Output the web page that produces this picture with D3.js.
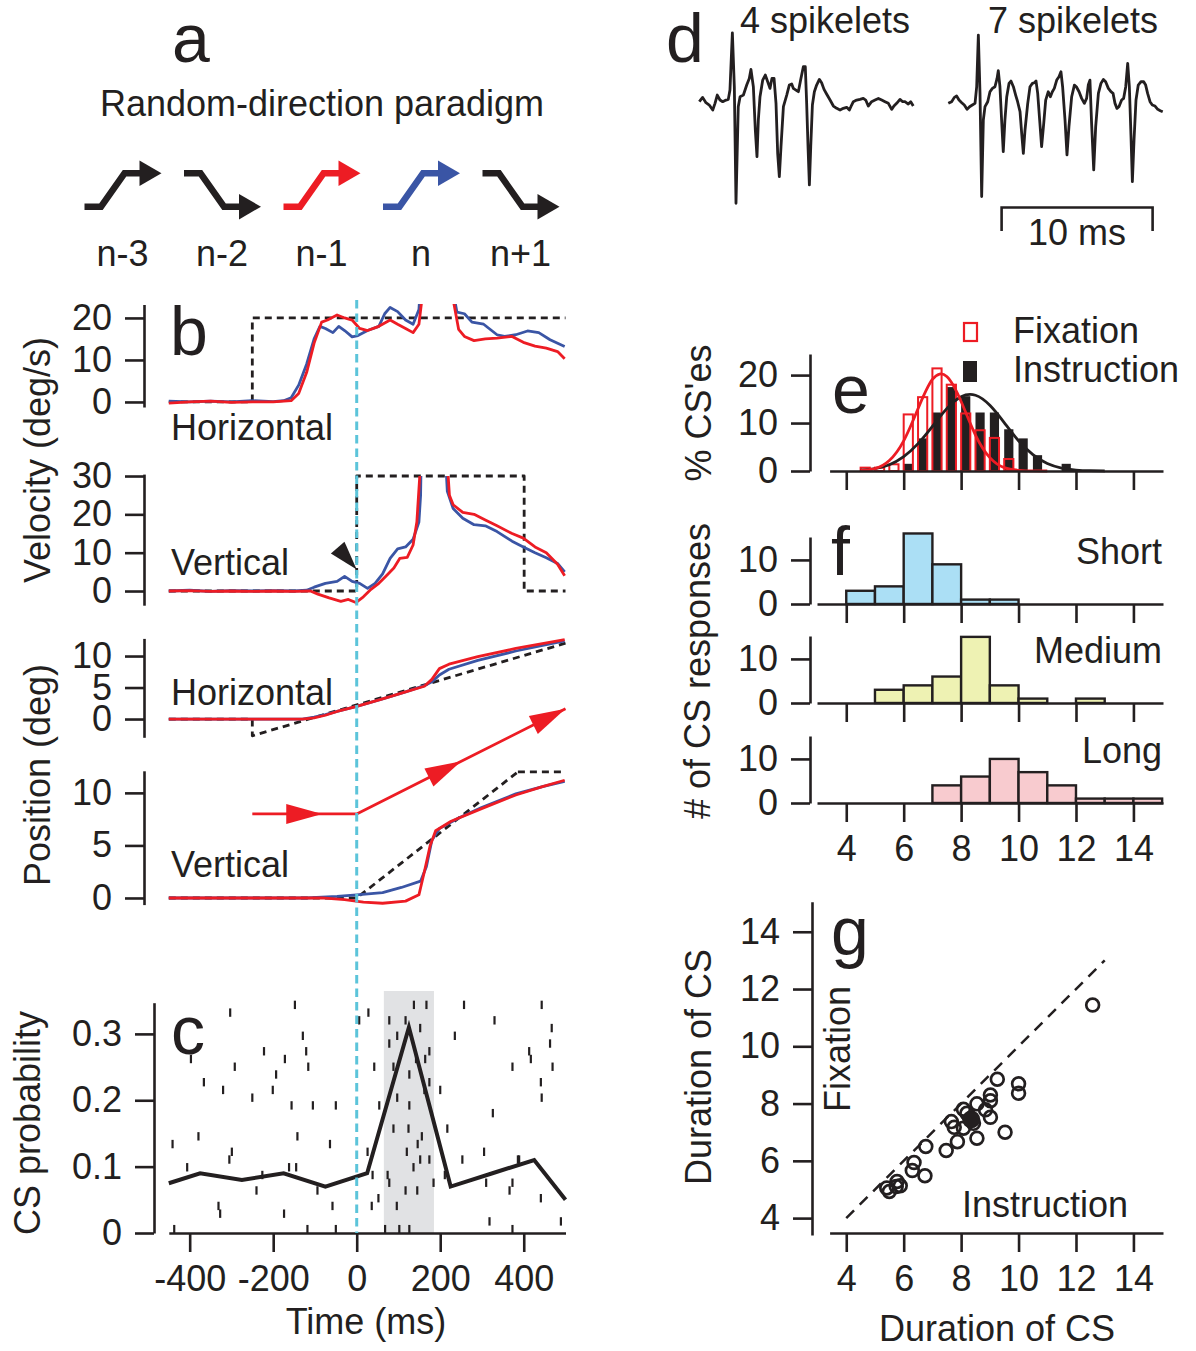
<!DOCTYPE html>
<html lang="en">
<head>
<meta charset="UTF-8">
<title>Complex spike figure</title>
<script src="https://d3js.org/d3.v7.min.js"></script>
<style>
  body { margin:0; background:#fff; }
  svg { display:block; background:#fff; color:#231f20; font-family:"Liberation Sans", Arial, sans-serif; }
  text { fill:#231f20; }
  .axis path, .axis line { stroke:#231f20; stroke-width:2.6px; }
  .trace { fill:none; stroke-width:2.8px; stroke-linejoin:round; }
</style>
</head>
<body>
<svg id="fig" width="1196" height="1351"></svg>
<script>
// ---------- data ----------
// a: trial sequence
const seqLabels = ['n-3', 'n-2', 'n-1', 'n', 'n+1'];
const seqDirs   = [1, -1, 1, 1, -1];          // 1 = up, -1 = down
const seqColors = ['#231f20', '#231f20', '#ed1c24', '#3a55a5', '#231f20'];

// b: velocity (deg/s) vs time (ms); off-scale saccade values are clipped
const velHorTarget = [[-450,0],[-250,0],[-250,20],[500,20]];
const velHorBlue = [[-450,0.2],[-400,0],[-350,0.2],[-300,0],[-250,0.3],[-200,0.1],[-175,0.3],[-157,1],[-139,4],[-120,9],[-102,15],[-88,18],[-75,17.5],[-57,16.5],[-43,18],[-29,17],[-11,15.5],[3,15.8],[26,17],[53,18],[67,21],[80,22.5],[98,21.5],[117,19.5],[135,18.5],[149,22],[153,28],[162,60],[212,60],[224,30],[240,21.4],[258,21],[276,19],[304,18.5],[336,16],[354,15.6],[381,16],[409,16.9],[436,16.5],[463,14.8],[498,13.2]];
const velHorRed = [[-450,-0.3],[-400,0],[-350,0.2],[-300,-0.1],[-250,0],[-200,0],[-157,0.3],[-139,2],[-120,7],[-102,14],[-84,19],[-70,19.5],[-47,20.7],[-29,20],[-11,19.5],[7,17.5],[26,17],[53,18],[80,19.5],[98,18.5],[117,17.5],[135,16.5],[149,18.5],[158,26],[166,60],[214,60],[228,26],[244,17.3],[258,15.6],[281,14.6],[308,15],[336,15.2],[372,15.6],[399,14.2],[427,13.3],[454,12.8],[481,12],[498,10.3]];

const velVerTarget = [[-450,0],[0,0],[0,30],[401,30],[401,0],[500,0]];
const velVerBlue = [[-450,0],[-400,0.2],[-350,-0.1],[-300,0.1],[-250,0],[-200,0.1],[-150,0],[-120,0.2],[-102,1],[-75,2],[-47,2.5],[-29,3.8],[-11,2.5],[7,2],[26,0.7],[44,2],[62,4.5],[80,8.5],[98,11],[117,11.5],[135,13.5],[149,18],[153,25],[158,60],[205,60],[210,40],[217,26],[231,21.5],[254,19],[281,17.3],[308,17],[336,15.5],[372,13],[399,11.5],[427,10],[454,8.7],[481,7.2],[498,5]];
const velVerRed = [[-450,0],[-400,0.1],[-350,-0.1],[-300,0],[-250,-0.1],[-200,0],[-150,-0.1],[-111,0],[-93,-0.8],[-66,-1.8],[-38,-2.7],[-20,-2.2],[-2,-3],[16,-1.5],[35,0.5],[53,2],[71,4],[89,6],[103,8.5],[121,8.8],[135,12],[144,18],[151,30],[155,60],[210,60],[213,40],[222,25],[231,22.5],[254,20.5],[281,20],[308,18.5],[336,17],[372,15],[399,13.8],[427,11.5],[454,10],[481,7],[498,4]];

// b: position (deg) vs time (ms)
const posHorTarget = [[-450,0],[-250,0],[-250,-2.66],[500,12.04]];
const posHorBlue = [[-450,0],[-130,0],[-102,0.3],[-75,0.7],[-47,1.2],[0,2],[62,3.2],[117,4.3],[162,5.3],[180,5.9],[198,7],[221,7.9],[290,9.3],[381,10.8],[498,12.4]];
const posHorRed  = [[-450,0],[-130,0],[-102,0.2],[-75,0.6],[-47,1.2],[0,2],[62,3.2],[117,4.3],[162,5.2],[180,6.3],[198,8],[221,8.7],[290,9.9],[381,11.2],[498,12.6]];
const posVerTarget = [[-450,0],[0,0],[386,12]];
const posVerTargetHold = [[386,12],[500,12]];
const posVerBlue = [[-450,0],[-120,0],[-47,0.15],[0,0.3],[62,0.5],[107,1.0],[153,1.6],[167,3.0],[180,5.5],[198,6.6],[244,7.6],[299,8.6],[381,9.9],[445,10.6],[498,11.1]];
const posVerRed  = [[-450,0],[-84,0],[-29,-0.15],[16,-0.4],[62,-0.5],[117,-0.3],[149,0.3],[162,2.5],[176,5.0],[189,6.4],[226,7.3],[299,8.5],[381,9.8],[445,10.6],[498,11.2]];
const trajectory = [[-250,8],[0,8],[500,18]];

// c: CS probability and raster
const psthTime = [-450,-375,-275,-175,-75,25,125,225,325,425,500];
const psthProb = [0.075,0.09,0.08,0.09,0.07,0.09,0.31,0.07,0.09,0.11,0.05];
const responseWindow = [65, 185];
const rasterSpikes = [
  [-148,30],[28,29],[137,30],[167,30],[257,30],[443,30],
  [-303,29],[330,28],[6,28],[78,28],[117,28],[152,27],[467,27],
  [97,26],[235,26],[463,25],[-129,26],[78,25],[174,24],[-222,24],[-121,24],
  [-172,23],[413,24],[417,23],[-397,23],[-292,22],[-116,22],[42,22],[88,22],
  [142,23],[164,23],[373,22],[469,22],[-193,21],[126,21],[174,20],[441,20],
  [-366,20],[-320,19],[-250,18],[-201,19],[200,19],[162,19],[443,18],[97,18],
  [-156,17],[-105,17],[-50,17],[54,17],[126,17],[326,16],[88,14],[124,14],
  [156,13],[217,14],[-379,13],[-142,13],[-64,12],[146,12],[-441,12],[-299,11],
  [-305,10],[26,11],[120,11],[152,10],[253,10],[305,11],[386,10],[-406,9],
  [-162,9],[-145,9],[74,8],[136,9],[174,10],[-226,8],[38,8],[78,7],[211,8],
  [184,7],[373,7],[389,10],[-240,6],[-94,6],[117,6],[145,6],[310,7],[366,6],
  [-58,4],[36,4],[52,5],[96,4],[441,5],[-331,4],[-327,3],[-174,3],[318,2],
  [489,2],[-437,1],[-118,1],[-50,1],[68,1],[102,1],[126,1],[373,1]
];

// d: example complex spikes (ms, a.u.)
const trace4 = [[0.02,0],[0.24,0.13],[0.46,-0.03],[0.68,-0.1],[0.91,-0.25],[1.06,-0.05],[1.21,0.2],[1.39,0.05],[1.57,0],[1.79,0.05],[1.94,0.07],[2.05,0.35],[2.21,2.07],[2.34,0.45],[2.45,-3.05],[2.6,-0.15],[2.72,0.15],[2.94,0.2],[3.16,0.5],[3.33,0.7],[3.44,0.97],[3.6,0.45],[3.73,-0.85],[3.84,-1.65],[3.93,-0.55],[4.04,0.15],[4.22,0.65],[4.39,0.8],[4.55,0.6],[4.7,0.4],[4.83,0.7],[4.97,0.7],[5.1,-0.05],[5.21,-1.55],[5.32,-2.25],[5.43,-1.35],[5.59,-0.15],[5.81,0.2],[5.98,0.5],[6.14,0.53],[6.25,0.4],[6.42,0.35],[6.58,0.3],[6.73,0.65],[6.91,1.05],[7.04,1.05],[7.13,-0.05],[7.22,-1.35],[7.31,-2.5],[7.4,-1.35],[7.51,-0.1],[7.64,0.3],[7.79,0.5],[7.97,0.67],[8.12,0.57],[8.28,0.37],[8.45,0.23],[8.68,0.05],[8.9,-0.13],[9.12,-0.2],[9.34,-0.25],[9.56,-0.2],[9.78,-0.17],[9.96,-0.25],[10.11,-0.1],[10.22,0],[10.44,0.05],[10.66,0.07],[10.88,0.1],[11.04,0.05],[11.21,-0.13],[11.43,0],[11.66,0.05],[11.88,0.1],[12.1,0.05],[12.32,0],[12.54,-0.05],[12.76,-0.23],[12.91,-0.13],[13.09,-0.05],[13.31,0.07],[13.49,0],[13.64,0],[13.86,-0.07],[14.02,0],[14.19,-0.13]];
const trace7 = [[0.02,-0.05],[0.24,0],[0.42,0.13],[0.57,0.17],[0.73,0.05],[0.91,-0.03],[1.08,-0.1],[1.26,-0.23],[1.43,-0.15],[1.61,-0.1],[1.79,-0.05],[1.9,0.45],[2.01,2.0],[2.12,0.25],[2.23,-2.85],[2.34,-0.55],[2.45,-0.15],[2.63,0],[2.78,0.3],[2.94,0.4],[3.11,0.45],[3.25,0.7],[3.33,0.93],[3.44,0.45],[3.55,-0.55],[3.66,-1.5],[3.77,-0.55],[3.89,0.15],[4.04,0.55],[4.17,0.62],[4.33,0.45],[4.48,0.2],[4.61,0],[4.77,-0.3],[4.88,-0.95],[4.99,-1.55],[5.1,-0.85],[5.28,-0.05],[5.43,0.45],[5.59,0.55],[5.72,0.57],[5.83,0.62],[5.94,0.25],[6.07,-0.55],[6.2,-1.35],[6.34,-0.65],[6.47,0.05],[6.64,0.3],[6.78,0.15],[6.91,0.3],[7.04,0.4],[7.2,0.65],[7.35,0.75],[7.48,0.9],[7.59,0.45],[7.75,-0.55],[7.88,-1.6],[8.01,-0.75],[8.19,0.15],[8.37,0.5],[8.5,0.45],[8.68,0.3],[8.85,0.1],[9.03,-0.05],[9.18,0.1],[9.29,0.5],[9.4,0.65],[9.51,-0.65],[9.65,-2.05],[9.78,-0.75],[9.96,0.25],[10.13,0.55],[10.29,0.67],[10.44,0.6],[10.62,0.4],[10.79,0.3],[10.93,0.25],[11.06,-0.05],[11.19,-0.2],[11.32,-0.15],[11.5,0.05],[11.63,0.1],[11.77,0.45],[11.9,1.15],[12.01,0.45],[12.12,-1.05],[12.21,-2.4],[12.32,-1.15],[12.45,0.05],[12.6,0.5],[12.78,0.6],[12.96,0.6],[13.09,0.5],[13.22,0.25],[13.38,0],[13.53,-0.1],[13.71,-0.13],[13.89,-0.23],[14.06,-0.27],[14.22,-0.3]];

// e: CS duration distributions (% of CSs), 0.5 ms bins
const eBins = [4.5,5,5.5,6,6.5,7,7.5,8,8.5,9,9.5,10,10.5,11,11.5];
const fixationPct    = [0.7,0.7,1.4,11.8,15.4,21.4,18,12,8.5,6.9,2.5,0,0,0,0];
const instructionPct = [0,0,0,1.5,6.8,12.2,17.5,15.6,12.2,12.2,8.7,6.8,3.3,0,1.5];
const fitX = [4.5,5,5.5,6,6.5,7,7.5,8,8.5,9,9.5,10,10.5,11,11.5,12,12.5,13];
const fixationFit    = [0.1,0.5,2.2,6.3,13,19.1,19.7,14.5,7.5,2.8,0.7,0.15,0.02,0,null,null,null,null];
const instructionFit = [0.16,0.5,1.3,3,5.7,9.3,13,15.5,15.8,13.7,10.1,6.3,3.4,1.55,0.6,0.2,0.06,0];

// f: # of CS responses per duration bin (1 ms bins)
const fBins = [4,5,6,7,8,9,10,11,12,13,14];
const shortCounts  = [3,4,16,9,1,1,0,0,0,0,0];
const mediumCounts = [0,3,4,6,15,4,1,0,1,0,0];
const longCounts   = [0,0,0,4,6,10,7,4,1,1,1];

// g: CS duration, instruction vs fixation (ms)
const gInstruction = [12.58,9.26,10.0,10.0,9.02,9.02,8.55,8.85,9.02,8.08,8.2,8.43,7.66,7.76,8.08,8.55,9.53,7.87,7.48,6.77,6.36,6.3,6.74,5.77,5.88,5.41,5.5,5.74];
const gFixation    = [11.44,8.85,8.69,8.36,8.3,8.1,7.99,7.78,7.52,7.8,7.66,7.31,7.37,7.17,7.14,6.79,7.0,6.67,6.36,6.5,5.94,5.66,5.48,5.28,5.13,5.05,4.93,5.1];
const gMean = [8.35, 7.45];

// ---------- drawing ----------
const INK = '#231f20', RED = '#ed1c24', BLUE = '#3a55a5', CYAN = '#5cc4da';
const FONT = 36, LETTER = 68;
const svg = d3.select('#fig');
const defs = svg.append('defs');
const fmt = d => String(d);

function yAxis(scale, x, ticks) {
  const g = svg.append('g').attr('class', 'axis').attr('transform', `translate(${x},0)`)
    .call(d3.axisLeft(scale).tickValues(ticks).tickSize(19).tickSizeOuter(0).tickPadding(13).tickFormat(fmt));
  g.attr('font-size', FONT).attr('font-family', null);
  return g;
}
function xAxis(scale, y, ticks, labels) {
  const g = svg.append('g').attr('class', 'axis').attr('transform', `translate(0,${y})`)
    .call(d3.axisBottom(scale).tickValues(ticks).tickSize(19).tickSizeOuter(0).tickPadding(13)
      .tickFormat(labels ? fmt : () => ''));
  g.attr('font-size', FONT).attr('font-family', null);
  return g;
}
function text(str, x, y, opts = {}) {
  return svg.append('text').attr('x', x).attr('y', y)
    .attr('font-size', opts.size || FONT)
    .attr('text-anchor', opts.anchor || 'start')
    .text(str);
}
function vText(str, x, y) {
  return svg.append('text').attr('transform', `translate(${x},${y}) rotate(-90)`)
    .attr('font-size', FONT).attr('text-anchor', 'middle').text(str);
}
function clip(id, x, y, w, h) {
  defs.append('clipPath').attr('id', id).append('rect')
    .attr('x', x).attr('y', y).attr('width', w).attr('height', h);
  return `url(#${id})`;
}
function arrowHead(x, y, angle, len, half, color) {
  svg.append('path')
    .attr('d', `M0,0 L${-len},${-half} L${-len},${half} Z`)
    .attr('transform', `translate(${x},${y}) rotate(${angle})`)
    .attr('fill', color);
}

// ---- panel a ----
text('a', 172, 62, { size: LETTER });
text('Random-direction paradigm', 322, 116, { anchor: 'middle' });
const xSeq = d3.scalePoint().domain(seqLabels).range([122.5, 520.5]);
const ySeq = d3.scaleLinear().domain([-1, 1]).range([206.7, 173.3]);
seqLabels.forEach((lab, i) => {
  const c = xSeq(lab), dir = seqDirs[i];
  const y0 = ySeq(-dir), y1 = ySeq(dir);
  svg.append('path')
    .attr('d', `M${c - 38},${y0} H${c - 21.5} L${c + 2},${y1} H${c + 19}`)
    .attr('fill', 'none').attr('stroke', seqColors[i]).attr('stroke-width', 6.5)
    .attr('stroke-linejoin', 'miter');
  arrowHead(c + 39, y1, 0, 22, 12.7, seqColors[i]);
  text(lab, c, 266, { anchor: 'middle' });
});

// ---- panel b ----
const xT = d3.scaleLinear().domain([-450, 500]).range([168.8, 565.5]);
const yVH = d3.scaleLinear().domain([-1.2, 23.2]).range([407, 304.5]);
const yVV = d3.scaleLinear().domain([-3.7, 30.5]).range([605.2, 474.1]);
const yPH = d3.scaleLinear().domain([-2.9, 12.8]).range([737.3, 638.4]);
const yPV = d3.scaleLinear().domain([-0.63, 12.1]).range([904.6, 770.8]);

function trace(data, y, color, clipUrl, dashed, width) {
  const line = d3.line().x(p => xT(p[0])).y(p => y(p[1]));
  const path = svg.append('path').datum(data).attr('class', 'trace')
    .attr('d', line).attr('stroke', color);
  if (clipUrl) path.attr('clip-path', clipUrl);
  if (dashed) path.attr('stroke-dasharray', '7,5').attr('stroke-width', 2.6);
  if (width) path.attr('stroke-width', width);
  return path;
}

const clipVH = clip('clipVH', 160, 304, 420, 110);
trace(velHorTarget, yVH, INK, null, true);
trace(velHorBlue, yVH, BLUE, clipVH);
trace(velHorRed, yVH, RED, clipVH);
yAxis(yVH, 144, [0, 10, 20]);
text('b', 170, 355, { size: LETTER });
text('Horizontal', 171, 440);

const clipVV = clip('clipVV', 160, yVV(30), 420, 140);
trace(velVerTarget, yVV, INK, null, true);
trace(velVerBlue, yVV, BLUE, clipVV);
trace(velVerRed, yVV, RED, clipVV);
yAxis(yVV, 144, [0, 10, 20, 30]);
text('Vertical', 171, 575);
// arrowhead pointing at the early vertical deviation
arrowHead(xT(0), yVV(5.6), 49, 29, 9, INK);
vText('Velocity (deg/s)', 50, 460);

trace(posHorTarget, yPH, INK, null, true);
trace(posHorBlue, yPH, BLUE);
trace(posHorRed, yPH, RED);
yAxis(yPH, 144, [0, 5, 10]);
text('Horizontal', 171, 705);

trace(posVerTarget, yPV, INK, null, true);
trace(posVerTargetHold, yPV, INK, null, true, 1.4);
trace(posVerBlue, yPV, BLUE);
trace(posVerRed, yPV, RED);
yAxis(yPV, 144, [0, 5, 10]);
text('Vertical', 171, 877);
vText('Position (deg)', 50, 775);

// target trajectory schematic with arrowheads
trace(trajectory, yPV, RED, null, false, 2.8);
{
  const p = trajectory.map(v => [xT(v[0]), yPV(v[1])]);
  arrowHead(p[0][0] + (p[1][0] - p[0][0]) * 0.67, p[0][1], 0, 36, 10, RED);
  const ang = Math.atan2(p[2][1] - p[1][1], p[2][0] - p[1][0]) * 180 / Math.PI;
  arrowHead(p[1][0] + (p[2][0] - p[1][0]) * 0.5, p[1][1] + (p[2][1] - p[1][1]) * 0.5, ang, 36, 10, RED);
  arrowHead(p[2][0], p[2][1], ang, 36, 10, RED);
}

// ---- panel c ----
const yC = d3.scaleLinear().domain([0, 0.347]).range([1233, 1002.7]);
const yTrial = d3.scaleLinear().domain([0.5, 30.5]).range([1233, 1001]);
svg.append('rect')
  .attr('x', xT(responseWindow[0])).attr('width', xT(responseWindow[1]) - xT(responseWindow[0]))
  .attr('y', 991).attr('height', 1233 - 991).attr('fill', '#e1e2e4');
svg.append('g').selectAll('line').data(rasterSpikes).join('line')
  .attr('x1', s => xT(s[0])).attr('x2', s => xT(s[0]))
  .attr('y1', s => yTrial(s[1]) - 4.2).attr('y2', s => yTrial(s[1]) + 4.2)
  .attr('stroke', INK).attr('stroke-width', 2.2);
svg.append('path').datum(psthTime.map((t, i) => [t, psthProb[i]]))
  .attr('d', d3.line().x(p => xT(p[0])).y(p => yC(p[1])))
  .attr('fill', 'none').attr('stroke', INK).attr('stroke-width', 4).attr('stroke-linejoin', 'miter');
yAxis(yC, 154, [0, 0.1, 0.2, 0.3]);
xAxis(xT, 1233, [-400, -200, 0, 200, 400], true);
text('c', 171, 1054, { size: LETTER });
vText('CS probability', 40, 1123);
text('Time (ms)', 366, 1334, { anchor: 'middle' });

// alignment line (t = 0)
svg.append('line').attr('x1', xT(0)).attr('x2', xT(0)).attr('y1', 300).attr('y2', 1233)
  .attr('stroke', CYAN).attr('stroke-width', 3).attr('stroke-dasharray', '8.5,5');

// ---- panel d ----
const xD1 = d3.scaleLinear().domain([0, 14.2]).range([699, 699 + 14.2 * 15.1]);
const xD2 = d3.scaleLinear().domain([0, 14.2]).range([948, 948 + 14.2 * 15.1]);
const yD = d3.scaleLinear().domain([-3.1, 2.1]).range([204.9, 31.8]);
[[trace4, xD1], [trace7, xD2]].forEach(([data, xs]) => {
  svg.append('path').datum(data)
    .attr('d', d3.line().x(p => xs(p[0])).y(p => yD(p[1])))
    .attr('class', 'trace').attr('stroke', INK).attr('stroke-width', 2.8);
});
text('d', 666, 62, { size: LETTER });
text('4 spikelets', 740, 33);
text('7 spikelets', 988, 33);
{
  const x0 = xD2(3.55), x1 = xD2(13.55);
  svg.append('path').attr('d', `M${x0},231 V207.5 H${x1} V231`)
    .attr('fill', 'none').attr('stroke', INK).attr('stroke-width', 2.6);
  text('10 ms', (x0 + x1) / 2, 245, { anchor: 'middle' });
}

// ---- panel e ----
const xE = d3.scaleLinear().domain([3.42, 15.03]).range([829.6, 1163]);
const yE = d3.scaleLinear().domain([0, 24.4]).range([471, 354]);
const barW = 0.32;
function eBars(values) {
  return svg.append('g').selectAll('rect')
    .data(eBins.map((b, i) => [b, values[i]]).filter(v => v[1] > 0))
    .join('rect')
    .attr('x', v => xE(v[0])).attr('width', v => xE(v[0] + barW) - xE(v[0]))
    .attr('y', v => yE(v[1])).attr('height', v => yE(0) - yE(v[1]));
}
eBars(instructionPct).attr('fill', INK);
eBars(fixationPct).attr('fill', 'none').attr('stroke', RED).attr('stroke-width', 2);
const fitLine = d3.line().defined(v => v[1] !== null).curve(d3.curveNatural)
  .x(v => xE(v[0])).y(v => yE(v[1]));
svg.append('path').datum(fitX.map((x, i) => [x, instructionFit[i]]))
  .attr('d', fitLine).attr('class', 'trace').attr('stroke', INK).attr('stroke-width', 2.4);
svg.append('path').datum(fitX.map((x, i) => [x, fixationFit[i]]))
  .attr('d', fitLine).attr('class', 'trace').attr('stroke', RED).attr('stroke-width', 2.4);
yAxis(yE, 810, [0, 10, 20]);
xAxis(xE, 471, [4, 6, 8, 10, 12, 14], false);
text('e', 832, 413, { size: LETTER });
vText("% CS'es", 711, 413);
svg.append('rect').attr('x', 964).attr('y', 323).attr('width', 13).attr('height', 18)
  .attr('fill', 'none').attr('stroke', RED).attr('stroke-width', 2.2);
svg.append('rect').attr('x', 963).attr('y', 361).attr('width', 14).attr('height', 21).attr('fill', INK);
text('Fixation', 1013, 343);
text('Instruction', 1013, 382);

// ---- panel f ----
const fPanels = [
  { counts: shortCounts,  label: 'Short',  fill: '#abdff5', base: 604 },
  { counts: mediumCounts, label: 'Medium', fill: '#eef2b3', base: 703 },
  { counts: longCounts,   label: 'Long',   fill: '#f8cbcf', base: 803 }
];
const xF = d3.scaleLinear().domain([xE.invert(817), 15.03]).range([817, 1163]);
fPanels.forEach((p, k) => {
  const y = d3.scaleLinear().domain([0, 15.2]).range([p.base, p.base - 67]);
  svg.append('g').selectAll('rect')
    .data(fBins.map((b, i) => [b, p.counts[i]]).filter(v => v[1] > 0))
    .join('rect')
    .attr('x', v => xF(v[0])).attr('width', v => xF(v[0] + 1) - xF(v[0]))
    .attr('y', v => y(v[1])).attr('height', v => y(0) - y(v[1]))
    .attr('fill', p.fill).attr('stroke', INK).attr('stroke-width', 2.4);
  yAxis(y, 810, [0, 10]);
  xAxis(xF, p.base, [4, 6, 8, 10, 12, 14], k === 2);
  text(p.label, 1162, p.base - 40, { anchor: 'end' });
});
text('f', 831, 575, { size: LETTER });
vText('# of CS responses', 710, 671);

// ---- panel g ----
const xG = d3.scaleLinear().domain([3.42, 15.03]).range([829.6, 1163]);
const yG = d3.scaleLinear().domain([3.41, 15.05]).range([1235, 901.7]);
svg.append('line').attr('x1', xG(4)).attr('y1', yG(4)).attr('x2', xG(13)).attr('y2', yG(13))
  .attr('stroke', INK).attr('stroke-width', 2.5).attr('stroke-dasharray', '11,8');
svg.append('g').selectAll('circle').data(gInstruction.map((x, i) => [x, gFixation[i]]))
  .join('circle')
  .attr('cx', v => xG(v[0])).attr('cy', v => yG(v[1])).attr('r', 6.4)
  .attr('fill', 'none').attr('stroke', INK).attr('stroke-width', 2.7);
svg.append('circle').attr('cx', xG(gMean[0])).attr('cy', yG(gMean[1])).attr('r', 9).attr('fill', INK);
yAxis(yG, 812, [4, 6, 8, 10, 12, 14]);
xAxis(xG, 1233, [4, 6, 8, 10, 12, 14], true);
text('g', 831, 955, { size: LETTER });
vText('Fixation', 850, 1049);
text('Instruction', 1045, 1217, { anchor: 'middle' });
vText('Duration of CS', 711, 1067);
text('Duration of CS', 997, 1341, { anchor: 'middle' });
</script>
</body>
</html>
